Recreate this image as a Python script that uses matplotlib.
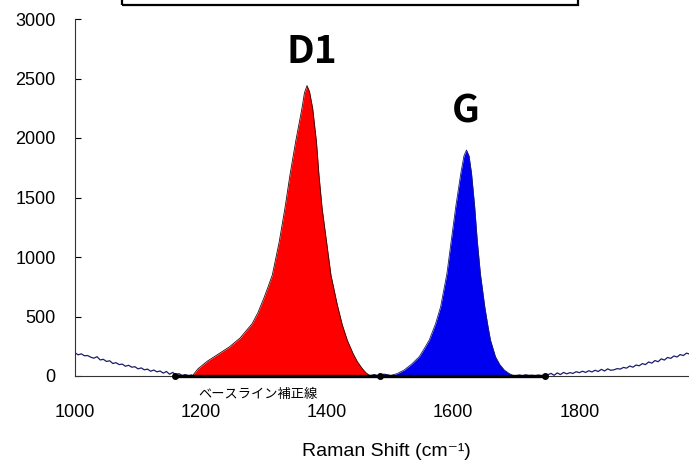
import matplotlib
matplotlib.use("Agg")
import matplotlib.pyplot as plt
from matplotlib.patches import Rectangle

# D1 band (red)
d1_x = [1186, 1195, 1210, 1229, 1245, 1262, 1281, 1290, 1300, 1307, 1313, 1324, 1333, 1341,
        1350, 1360, 1364, 1368, 1372, 1377, 1383, 1387, 1392, 1399, 1406, 1416, 1424,
        1432, 1441, 1448, 1456, 1462, 1469]
d1_y = [0, 60, 125, 190, 245, 320, 440, 530, 660, 760, 849, 1129, 1409, 1689,
        1969, 2249, 2380, 2440, 2390, 2249, 1969, 1689, 1409, 1129, 849, 600, 430,
        300, 190, 120, 60, 25, 0]

# G band (blue)
g_x = [1498, 1511, 1522, 1534, 1546, 1554, 1562, 1572, 1580, 1590, 1597, 1604, 1612,
       1617, 1621, 1625, 1629, 1634, 1638, 1643, 1650, 1655, 1659, 1667, 1674, 1681,
       1689, 1697]
g_y = [0, 20, 50, 100, 162, 230, 303, 440, 582, 862, 1143, 1423, 1703,
       1850, 1899, 1850, 1703, 1423, 1143, 862, 582, 420, 303, 162, 95, 50,
       20, 0]

# raw spectrum outside the bands
left_x = list(range(1000, 1190, 5))
left_y = [195, 178, 186, 170, 172, 158, 150, 162, 135, 140, 122, 128, 105, 112, 96, 100,
          82, 90, 74, 78, 60, 68, 52, 58, 40, 50, 35, 42, 24, 38, 15, 30, 8, 20, 4, 12, 3, 8]
mid_x = [1469, 1475, 1480, 1485, 1490, 1498]
mid_y = [4, 12, 2, 6, 15, 8]
right_x = list(range(1700, 1974, 5)) + [1974]
right_y = [3, 8, 2, 10, 4, 6, 2, 8, 3, 5, 10, 22, 6, 26, 12, 30, 18, 28, 22, 36, 28, 40,
           30, 44, 34, 48, 38, 56, 42, 60, 48, 52, 62, 58, 72, 66, 84, 74, 92, 86, 104,
           96, 118, 108, 130, 120, 144, 134, 156, 148, 168, 160, 180, 172, 192, 186]

# baseline correction points
base_x = [1158, 1484, 1745]
base_y = [0, 0, 0]

xticks = [1000, 1200, 1400, 1600, 1800]
yticks = [0, 500, 1000, 1500, 2000, 2500, 3000]

navy = "#1c1c6a"

fig = plt.figure(figsize=(6.89, 4.63), dpi=100)
ax = fig.add_axes([75 / 689, 1 - 376 / 463, 614 / 689, 357 / 463])

ax.fill_between(d1_x, d1_y, color="#ff0000", lw=0)
ax.plot(d1_x, d1_y, color="#2a0a0a", lw=0.6)
ax.fill_between(g_x, g_y, color="#0000f0", lw=0)
ax.plot(g_x, g_y, color=navy, lw=0.6)
for xs, ys in [(left_x, left_y), (mid_x, mid_y), (right_x, right_y)]:
    ax.plot(xs, ys, color=navy, lw=0.9)

ax.plot(base_x, base_y, color="black", lw=2.4, marker="o", ms=4, clip_on=False, zorder=5)

ax.set_xlim(1000, 1974)
ax.set_ylim(0, 3000)
ax.set_xticks(xticks)
ax.set_yticks(yticks)
ax.spines["top"].set_visible(False)
ax.spines["right"].set_visible(False)
ax.spines["left"].set_color("#333333")
ax.spines["bottom"].set_color("#333333")
ax.tick_params(axis="x", length=0, pad=20)
ax.tick_params(axis="y", direction="in", length=4, pad=14)
for lab in ax.get_xticklabels() + ax.get_yticklabels():
    lab.set_family(["Liberation Sans", "DejaVu Sans"])
    lab.set_fontsize(13)

ax.text(1375, 2730, "D1", fontsize=28, fontweight="bold", ha="center", va="center",
        family=["Noto Sans CJK JP", "DejaVu Sans"])
ax.text(1620, 2230, "G", fontsize=28, fontweight="bold", ha="center", va="center",
        family=["Noto Sans CJK JP", "DejaVu Sans"])
ax.text(1196, -155, "ベースライン補正線", fontsize=9.5, ha="left", va="center",
        family=["Noto Sans CJK JP", "DejaVu Sans"], clip_on=False)

fig.text(386 / 689, 1 - 452 / 463, "Raman Shift (cm⁻¹)", fontsize=14, ha="center", va="center",
         family=["Liberation Sans", "DejaVu Sans"])

fig.patches.append(Rectangle((122 / 689, 1 - 5 / 463), 456 / 689, 20 / 463,
                             transform=fig.transFigure, fill=False, ec="black", lw=1.6))

fig.savefig("out.png", dpi=100)
